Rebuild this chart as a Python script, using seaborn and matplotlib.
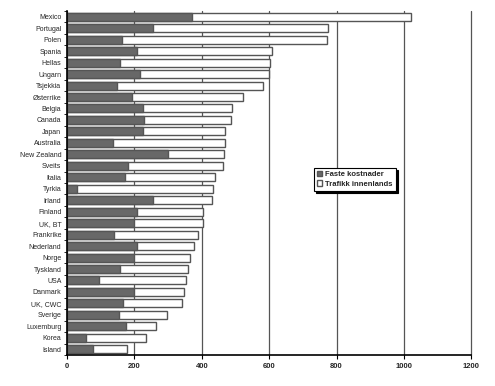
import numpy as np
import matplotlib
matplotlib.use("Agg")
import matplotlib.pyplot as plt
import matplotlib.patches as mpatches
import seaborn as sns

land = ["Mexico", "Portugal", "Polen", "Spania", "Hellas", "Ungarn", "Tsjekkia",
        "Østerrike", "Belgia", "Canada", "Japan", "Australia", "New Zealand",
        "Sveits", "Italia", "Tyrkia", "Irland", "Finland", "UK, BT", "Frankrike",
        "Nederland", "Norge", "Tyskland", "USA", "Danmark", "UK, CWC", "Sverige",
        "Luxemburg", "Korea", "Island"]
faste = [370, 254, 162, 207, 156, 218, 148, 192, 226, 230, 225, 136, 301,
         180, 173, 30, 254, 209, 200, 139, 209, 200, 158, 94, 198, 166, 154,
         174, 56, 77]
trafikk = [650, 521, 610, 403, 448, 383, 435, 329, 264, 257, 245, 334, 165,
           283, 267, 404, 177, 195, 204, 250, 169, 166, 202, 258, 148, 174, 144,
           91, 177, 101]
xticks = [0, 200, 400, 600, 800, 1000, 1200]

sns.set_style("white")
plt.rcParams['font.family'] = ['Liberation Sans', 'DejaVu Sans']

fig = plt.figure(figsize=(4.95, 3.86), dpi=100)
ax = fig.add_axes([0.1354, 0.0803, 0.952 - 0.1354, 0.9715 - 0.0803])

total = np.array(faste) + np.array(trafikk)
kant = "#555555"
sns.barplot(x=total, y=land, orient="h", color="white", edgecolor=kant,
            linewidth=1, width=0.7, saturation=1, ax=ax, zorder=3)
sns.barplot(x=faste, y=land, orient="h", color="#686868", edgecolor=kant,
            linewidth=1, width=0.7, saturation=1, ax=ax, zorder=4)

ax.set_xlim(0, 1200)
ax.set_ylim(len(land) - 0.5, -0.5)
ax.set_xticks(xticks)
ax.set_xticklabels([str(v) for v in xticks], fontsize=5.5, fontweight="bold")
ax.tick_params(axis="y", labelsize=5, length=0, pad=4)
ax.set_yticks(np.arange(len(land) + 1) - 0.5, minor=True)
ax.tick_params(axis="y", which="minor", length=2, width=0.6, color="black", left=True)
ax.tick_params(axis="x", length=3, width=0.8, color="black", bottom=True, pad=3)
ax.set_xlabel("")
ax.set_ylabel("")

ax.xaxis.grid(True, color="#555555", linewidth=0.9)
for gl in ax.get_xgridlines():
    gl.set_clip_on(False)
ax.set_axisbelow(True)
for s in ["top", "right"]:
    ax.spines[s].set_visible(False)
for s in ["left", "bottom"]:
    ax.spines[s].set_color("black")
    ax.spines[s].set_linewidth(1.2)
    ax.spines[s].set_zorder(6)

handles = [mpatches.Patch(facecolor="#686868", edgecolor=kant, label="Faste kostnader"),
           mpatches.Patch(facecolor="white", edgecolor=kant, label="Trafikk innenlands")]
leg = ax.legend(handles=handles, loc="upper left", bbox_to_anchor=(0.611, 0.545),
                prop={"size": 5.5, "weight": "bold"}, frameon=True, fancybox=False,
                shadow={"color": "black", "alpha": 1, "ox": 1.5, "oy": -1.5},
                handlelength=0.7, handleheight=0.7, handletextpad=0.4,
                borderpad=0.4, labelspacing=0.3, borderaxespad=0)
leg.get_frame().set_edgecolor("black")
leg.get_frame().set_linewidth(0.8)
leg.set_zorder(10)

fig.savefig("out.png", dpi=100)
